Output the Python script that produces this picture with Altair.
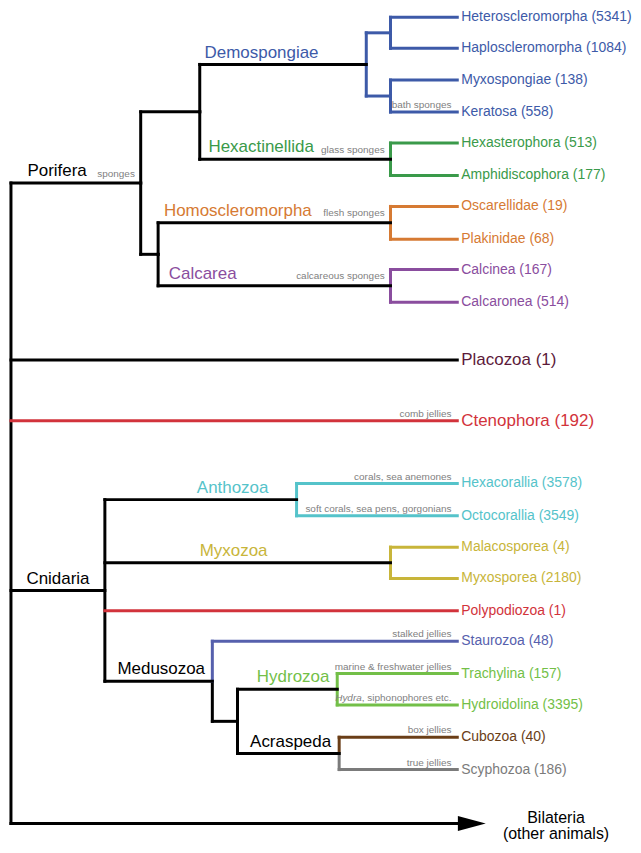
import altair as alt
import pandas as pd

# ---------------- data ----------------
blue, green, orange, purple = "#3d5aa8", "#3a9a4a", "#d67a33", "#8a4d9e"
maroon, red, cyan, olive = "#5c1a3a", "#d2333b", "#55c3ca", "#c8b53a"
stauro, hydro, brown, grey = "#5660ad", "#73bf48", "#6a3e17", "#7b7b7b"
black = "#000000"

leaf_names = ["Heteroscleromorpha", "Haploscleromorpha", "Myxospongiae", "Keratosa",
              "Hexasterophora", "Amphidiscophora", "Oscarellidae", "Plakinidae",
              "Calcinea", "Calcaronea", "Placozoa", "Ctenophora",
              "Hexacorallia", "Octocorallia", "Malacosporea", "Myxosporea",
              "Polypodiozoa", "Staurozoa", "Trachylina", "Hydroidolina",
              "Cubozoa", "Scyphozoa"]
leaf_species = [5341, 1084, 138, 558, 513, 177, 19, 68, 167, 514, 1, 192,
                3578, 3549, 4, 2180, 1, 48, 157, 3395, 40, 186]
leaf_parent = ["D1", "D1", "D2", "D2", "Hexactinellida", "Hexactinellida",
               "Homoscleromorpha", "Homoscleromorpha", "Calcarea", "Calcarea",
               "root", "root", "Anthozoa", "Anthozoa", "Myxozoa", "Myxozoa",
               "Cnidaria", "Medusozoa", "Hydrozoa", "Hydrozoa", "Acraspeda", "Acraspeda"]
leaf_row = [9.3, 41, 73.3, 106, 137.7, 170.7, 202.3, 235.7, 266.7, 300, 359, 421,
            485, 518, 550, 582, 615, 646, 679, 711, 744, 777]
leaf_line_color = [blue, blue, blue, blue, green, green, orange, orange, purple, purple,
                   black, red, cyan, cyan, olive, olive, red, stauro, hydro, hydro, brown, grey]
leaf_text_color = [blue, blue, blue, blue, green, green, orange, orange, purple, purple,
                   maroon, red, cyan, cyan, olive, olive, red, stauro, hydro, hydro, brown, grey]

node_names = ["root", "Porifera", "DH", "Demospongiae", "D1", "D2", "Hexactinellida",
              "HC", "Homoscleromorpha", "Calcarea", "Cnidaria", "Anthozoa", "Myxozoa",
              "Medusozoa", "HA", "Hydrozoa", "Acraspeda"]
node_parent = [None, "root", "Porifera", "DH", "Demospongiae", "Demospongiae", "DH",
               "Porifera", "HC", "HC", "root", "Cnidaria", "Cnidaria", "Cnidaria",
               "Medusozoa", "HA", "HA"]
node_depth = [3, 137, 198, 370, 395, 395, 395, 155, 395, 395, 100, 298, 395, 211, 237, 340, 342]
node_stem_color = [black, black, black, black, blue, blue, black, black, black, black,
                   black, black, black, black, black, black, black]

clade_names = ["Porifera", "Demospongiae", "Hexactinellida", "Homoscleromorpha", "Calcarea",
               "Cnidaria", "Anthozoa", "Myxozoa", "Medusozoa", "Hydrozoa", "Acraspeda"]
clade_label_x = [20, 203, 207, 161, 166, 19, 195, 198, 113, 257, 250]
clade_colors = [black, blue, green, orange, purple, black, cyan, olive, black, hydro, black]

note_nodes = ["Porifera", "Keratosa", "Hexactinellida", "Homoscleromorpha", "Calcarea",
              "Ctenophora", "Hexacorallia", "Octocorallia", "Staurozoa", "Trachylina",
              "Hydroidolina", "Cubozoa", "Scyphozoa"]
note_texts = ["sponges", "bath sponges", "glass sponges", "flesh sponges", "calcareous sponges",
              "comb jellies", "corals, sea anemones", "soft corals, sea pens, gorgonians",
              "stalked jellies", "marine & freshwater jellies", ", siphonophores etc.",
              "box jellies", "true jellies"]
italic_note_node = "Hydroidolina"
italic_note_text = "Hydra"

outgroup_name = "Bilateria\n(other animals)"
outgroup_row = 832
outgroup_label_x = 566
LEAF_X = 464

# ---------------- tree layout ----------------
x_of, parent_of, stem_color, y_of = {}, {}, {}, {}
for n, p, d, c in zip(node_names, node_parent, node_depth, node_stem_color):
    x_of[n], parent_of[n], stem_color[n] = d, p, c
for n, p, r, c in zip(leaf_names, leaf_parent, leaf_row, leaf_line_color):
    x_of[n], parent_of[n], y_of[n], stem_color[n] = LEAF_X, p, r, c
x_of["Bilateria"], parent_of["Bilateria"] = LEAF_X, "root"
y_of["Bilateria"], stem_color["Bilateria"] = outgroup_row, black

children = {}
for n, p in parent_of.items():
    if p is not None:
        children.setdefault(p, []).append(n)


def ypos(n):
    if n not in y_of:
        ys = [ypos(c) for c in children[n]]
        y_of[n] = (min(ys) + max(ys)) / 2
    return y_of[n]


ypos("root")

segs = []
for n, kids in children.items():
    if len(kids) == 2:
        for k in kids:
            segs.append(dict(x=x_of[n], x2=x_of[n], y=y_of[n], y2=y_of[k], color=stem_color[k]))
    else:
        ys_ = [y_of[k] for k in kids]
        segs.append(dict(x=x_of[n], x2=x_of[n], y=min(ys_), y2=max(ys_), color=black))
for n, p in parent_of.items():
    if p is not None:
        segs.append(dict(x=x_of[p], x2=x_of[n], y=y_of[n], y2=y_of[n], color=stem_color[n]))
seg_df = pd.DataFrame(segs)

big = {"Placozoa", "Ctenophora"}
leaf_df = pd.DataFrame(dict(
    x=[LEAF_X] * len(leaf_names),
    y=leaf_row,
    label=[f"{n} ({c})" for n, c in zip(leaf_names, leaf_species)],
    color=leaf_text_color,
    fs=[17 if n in big else 14 for n in leaf_names],
))

clade_df = pd.DataFrame(dict(
    x=clade_label_x,
    y=[y_of[n] - 7 for n in clade_names],
    label=clade_names,
    color=clade_colors,
))

note_df = pd.DataFrame(dict(
    x=[x_of[n] - 6 for n in note_nodes],
    y=[y_of[n] - (4 if n in leaf_names else 6.5) for n in note_nodes],
    label=note_texts,
))
italic_df = pd.DataFrame(dict(
    x=[x_of[italic_note_node] - 6],
    y=[y_of[italic_note_node] - 4],
    label=[italic_note_text],
))

arrow_df = pd.DataFrame(dict(x=[LEAF_X + 15], y=[outgroup_row]))
out_df = pd.DataFrame(dict(x=[outgroup_label_x], y=[outgroup_row], label=[outgroup_name]))

# ---------------- chart ----------------
xs = alt.Scale(domain=[2, 645.5], nice=False, zero=False)
ys = alt.Scale(domain=[2.2, 853.6], nice=False, zero=False, reverse=True)
FONT = "Liberation Sans"


def X(f="x"):
    return alt.X(f"{f}:Q", scale=xs, axis=None)


def Y(f="y"):
    return alt.Y(f"{f}:Q", scale=ys, axis=None)


branches = alt.Chart(seg_df).mark_rule(strokeWidth=3, strokeCap="square").encode(
    x=X(), x2="x2:Q", y=Y(), y2="y2:Q", color=alt.Color("color:N", scale=None)
)

arrow = alt.Chart(arrow_df).mark_point(
    shape="M-1,-0.54L1,0L-1,0.54Z", size=784, filled=True, color="black", opacity=1, strokeWidth=0
).encode(x=X(), y=Y())

leaves = alt.Chart(leaf_df).mark_text(align="left", baseline="middle", dx=4, font=FONT).encode(
    x=X(), y=Y(), text="label:N", color=alt.Color("color:N", scale=None),
    size=alt.Size("fs:Q", scale=None)
)

clades = alt.Chart(clade_df).mark_text(align="left", baseline="alphabetic", fontSize=17, font=FONT).encode(
    x=X(), y=Y(), text="label:N", color=alt.Color("color:N", scale=None)
)

notes = alt.Chart(note_df).mark_text(align="right", baseline="alphabetic", fontSize=10,
                                     font=FONT, color="#7f7f7f").encode(
    x=X(), y=Y(), text="label:N"
)

italic_note = alt.Chart(italic_df).mark_text(align="right", baseline="alphabetic", fontSize=10,
                                             font=FONT, color="#7f7f7f", fontStyle="italic",
                                             dx=-90).encode(
    x=X(), y=Y(), text="label:N"
)

outgroup = alt.Chart(out_df).mark_text(align="center", baseline="alphabetic", fontSize=16,
                                       font=FONT, color="black", lineBreak="\n",
                                       lineHeight=16).encode(
    x=X(), y=Y(), text="label:N"
)

chart = alt.layer(branches, arrow, leaves, clades, notes, italic_note, outgroup).properties(
    width=625, height=837, padding=0
).configure_view(stroke=None)

chart.save("out.html", embed_options={"renderer": "svg", "actions": False})
